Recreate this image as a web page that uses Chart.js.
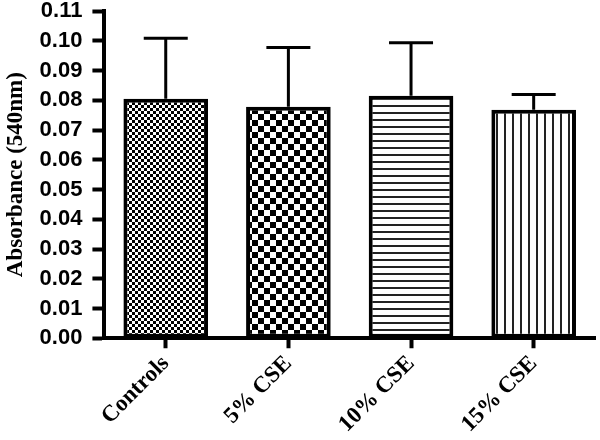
<!DOCTYPE html>
<html>
<head>
<meta charset="utf-8">
<script src="https://cdn.jsdelivr.net/npm/chart.js@4"></script>
<style>
  body { margin: 0; background: #fff; }
  #wrap { width: 600px; height: 440px; }
</style>
</head>
<body>
<div id="wrap"><canvas id="myChart" width="600" height="440"></canvas></div>
<script>
var groups = ['Controls', '5% CSE', '10% CSE', '15% CSE'];
var absorbance = [0.0805, 0.0778, 0.0815, 0.0768];
var errUp = [0.0203, 0.0199, 0.0178, 0.0051];
var yTicks = [0, 0.01, 0.02, 0.03, 0.04, 0.05, 0.06, 0.07, 0.08, 0.09, 0.10, 0.11];

// fill patterns for the bars
function makePattern(kind) {
    var c = document.createElement('canvas');
    var g = c.getContext('2d');
    if (kind == 'fine' || kind == 'coarse') {
        var s = kind == 'fine' ? 3 : 6;
        c.width = s * 2; c.height = s * 2;
        g.fillStyle = '#fff';
        g.fillRect(0, 0, s * 2, s * 2);
        g.fillStyle = '#000';
        g.fillRect(0, 0, s, s);
        g.fillRect(s, s, s, s);
    } else if (kind == 'hlines') {
        c.width = 7; c.height = 7;
        g.fillStyle = '#fff';
        g.fillRect(0, 0, 7, 7);
        g.fillStyle = '#222';
        g.fillRect(0, 0, 7, 2);
    } else {
        c.width = 8; c.height = 8;
        g.fillStyle = '#fff';
        g.fillRect(0, 0, 8, 8);
        g.fillStyle = '#222';
        g.fillRect(0, 0, 2, 8);
    }
    return g.createPattern(c, 'repeat');
}

var fills = [makePattern('fine'), makePattern('coarse'), makePattern('hlines'), makePattern('vlines')];

// upward error bars with caps
var errorBars = {
    id: 'errorBars',
    afterDatasetsDraw: function (chart) {
        var ctx = chart.ctx;
        var y = chart.scales.y;
        var meta = chart.getDatasetMeta(0);
        ctx.save();
        ctx.strokeStyle = '#000';
        ctx.lineWidth = 3;
        for (var i = 0; i < meta.data.length; i++) {
            var bar = meta.data[i];
            var top = y.getPixelForValue(absorbance[i] + errUp[i]);
            ctx.beginPath();
            ctx.moveTo(bar.x, bar.y);
            ctx.lineTo(bar.x, top);
            ctx.moveTo(bar.x - 22, top);
            ctx.lineTo(bar.x + 22, top);
            ctx.stroke();
        }
        ctx.restore();
    }
};

var ctx = document.getElementById('myChart').getContext('2d');
var myChart = new Chart(ctx, {
    type: 'bar',
    data: {
        labels: groups,
        datasets: [{
            data: absorbance,
            backgroundColor: fills,
            borderColor: '#000',
            borderWidth: 4,
            borderSkipped: false,
            barPercentage: 0.69,
            categoryPercentage: 1
        }]
    },
    options: {
        responsive: false,
        animation: false,
        layout: { padding: { top: 11, right: 5, left: 2, bottom: 0 } },
        plugins: { legend: { display: false }, tooltip: { enabled: false } },
        scales: {
            x: {
                afterFit: function (s) { s.paddingLeft = 0; s.paddingRight = 0; },
                grid: { display: true, drawOnChartArea: false, offset: false, tickLength: 10, tickWidth: 4, tickColor: '#000' },
                border: { display: true, color: '#000', width: 4 },
                ticks: {
                    color: '#000', maxRotation: 45, minRotation: 45, padding: 2,
                    font: { family: 'Liberation Serif', weight: 'bold', size: 23 }
                }
            },
            y: {
                min: 0,
                max: 0.11,
                afterBuildTicks: function (axis) {
                    axis.ticks = yTicks.map(function (v) { return { value: v }; });
                },
                afterFit: function (s) { s.paddingTop = 0; s.paddingBottom = 0; },
                grid: { display: true, drawOnChartArea: false, tickLength: 12, tickWidth: 4, tickColor: '#000' },
                border: { display: true, color: '#000', width: 4 },
                ticks: {
                    color: '#000', padding: 10, autoSkip: false,
                    font: { family: 'Liberation Sans', weight: 'bold', size: 22 },
                    callback: function (v) { return Number(v).toFixed(2); }
                },
                title: {
                    display: true, text: 'Absorbance (540nm)', color: '#000', padding: { top: 0, bottom: 0 },
                    font: { family: 'Liberation Serif', weight: 'bold', size: 23 }
                }
            }
        }
    },
    plugins: [errorBars]
});
</script>
</body>
</html>
